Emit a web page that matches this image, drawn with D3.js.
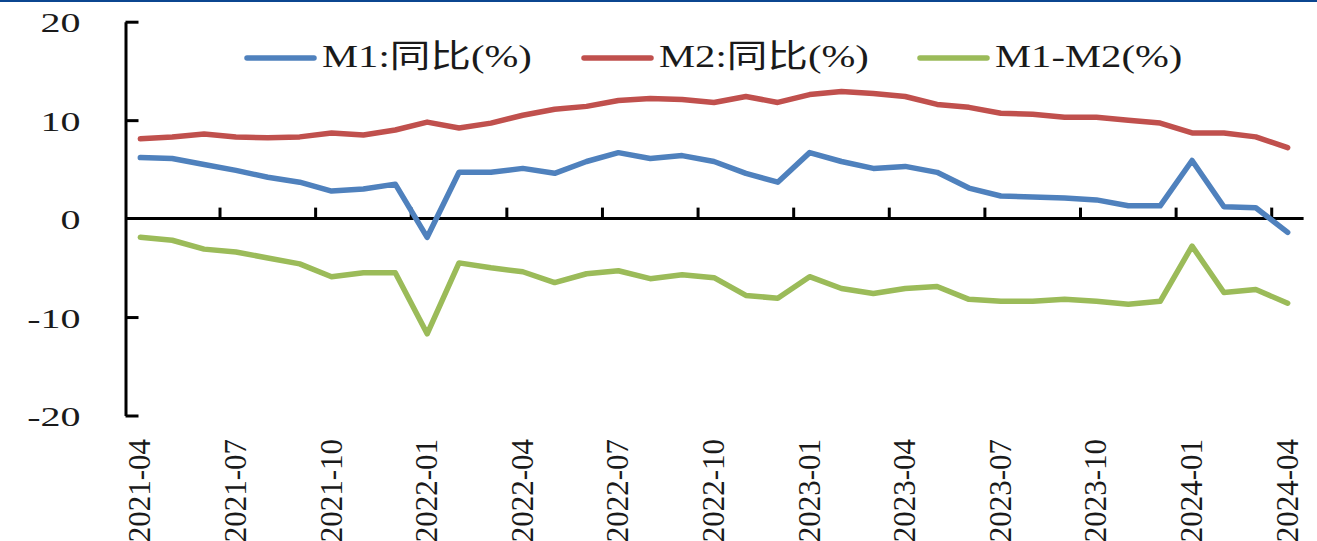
<!DOCTYPE html>
<html>
<head>
<meta charset="utf-8">
<script src="https://cdn.jsdelivr.net/npm/d3@7/dist/d3.min.js"></script>
<style>
  html, body { margin: 0; padding: 0; background: #ffffff; }
  svg { display: block; }
  text { font-family: "Liberation Serif", "Times New Roman", "Noto Sans CJK SC", serif; fill: #1a1a1a; }
</style>
</head>
<body>
<svg id="chart" width="1317" height="541"></svg>
<script>
// Monthly money supply growth, 2021-04 .. 2024-04
const months = [
  "2021-04","2021-05","2021-06","2021-07","2021-08","2021-09","2021-10","2021-11","2021-12",
  "2022-01","2022-02","2022-03","2022-04","2022-05","2022-06","2022-07","2022-08","2022-09",
  "2022-10","2022-11","2022-12","2023-01","2023-02","2023-03","2023-04","2023-05","2023-06",
  "2023-07","2023-08","2023-09","2023-10","2023-11","2023-12","2024-01","2024-02","2024-03","2024-04"
];
const m1 = [
  6.2, 6.1, 5.5, 4.9, 4.2, 3.7, 2.8, 3.0, 3.5,
  -1.9, 4.7, 4.7, 5.1, 4.6, 5.8, 6.7, 6.1, 6.4,
  5.8, 4.6, 3.7, 6.7, 5.8, 5.1, 5.3, 4.7, 3.1,
  2.3, 2.2, 2.1, 1.9, 1.3, 1.3, 5.9, 1.2, 1.1, -1.4
];
const m2 = [
  8.1, 8.3, 8.6, 8.3, 8.2, 8.3, 8.7, 8.5, 9.0,
  9.8, 9.2, 9.7, 10.5, 11.1, 11.4, 12.0, 12.2, 12.1,
  11.8, 12.4, 11.8, 12.6, 12.9, 12.7, 12.4, 11.6, 11.3,
  10.7, 10.6, 10.3, 10.3, 10.0, 9.7, 8.7, 8.7, 8.3, 7.2
];
const m1m2 = [
  -1.9, -2.2, -3.1, -3.4, -4.0, -4.6, -5.9, -5.5, -5.5,
  -11.7, -4.5, -5.0, -5.4, -6.5, -5.6, -5.3, -6.1, -5.7,
  -6.0, -7.8, -8.1, -5.9, -7.1, -7.6, -7.1, -6.9, -8.2,
  -8.4, -8.4, -8.2, -8.4, -8.7, -8.4, -2.8, -7.5, -7.2, -8.6
];
const yTicks = [-20, -10, 0, 10, 20];
const seriesNames = ["M1:同比(%)", "M2:同比(%)", "M1-M2(%)"];
const seriesColors = ["#4f81bd", "#c0504d", "#9bbb59"];

const svg = d3.select("#chart");
const W = 1317, H = 541;

svg.append("rect").attr("width", W).attr("height", H).attr("fill", "#ffffff");
// thin rule across the top edge
svg.append("rect").attr("x", 0).attr("y", 0).attr("width", W).attr("height", 2).attr("fill", "#0b4690");

const x = d3.scaleBand().domain(months).range([124.4, 1303.6]).paddingInner(0).paddingOuter(0);
const y = d3.scaleLinear().domain([-20, 20]).range([415.5, 21.7]);
const bw = x.bandwidth();
const cx = m => x(m) + bw / 2;

const AX = 125.5;   // vertical axis position
const axisStroke = 3;

// value axis, ticks pointing inward
const yAxis = d3.axisLeft(y).tickValues(yTicks).tickSizeInner(-13).tickSizeOuter(0).tickPadding(45)
  .tickFormat(d3.format("d"));
const gy = svg.append("g").attr("transform", `translate(${AX},0)`).call(yAxis);
gy.select(".domain").attr("stroke", "#000").attr("stroke-width", axisStroke);
gy.selectAll(".tick line").attr("stroke", "#000").attr("stroke-width", axisStroke)
  .filter(d => d === 0).remove();
gy.selectAll(".tick text")
  .attr("x", null).attr("dy", null)
  .attr("font-size", 28)
  .attr("text-anchor", "end")
  .attr("transform", "translate(-45,10) scale(1.43,1)")
  .text(d => d3.format("d")(d).replace("−", "-"));

// category axis along the zero line
const y0 = y(0);
const gx = svg.append("g");
gx.append("line")
  .attr("x1", AX).attr("x2", x.range()[1])
  .attr("y1", y0).attr("y2", y0)
  .attr("stroke", "#000").attr("stroke-width", axisStroke);
const tickIdx = months.map((m, i) => i).filter(i => i > 0 && i % 3 === 0);
gx.selectAll("line.tick").data(tickIdx).join("line")
  .attr("class", "tick")
  .attr("x1", i => x(months[i])).attr("x2", i => x(months[i]))
  .attr("y1", y0).attr("y2", y0 - 11)
  .attr("stroke", "#000").attr("stroke-width", axisStroke);

const labelIdx = months.map((m, i) => i).filter(i => i % 3 === 0);
svg.append("g").selectAll("text").data(labelIdx).join("text")
  .attr("font-size", 31)
  .attr("text-anchor", "end")
  .attr("transform", i => `translate(${cx(months[i]) + 10},439) rotate(-90)`)
  .text(i => months[i]);

// series lines
const line = d3.line().x((d, i) => cx(months[i])).y(d => y(d));
const seriesData = [m1, m2, m1m2];
svg.append("g").selectAll("path").data(seriesData).join("path")
  .attr("d", d => line(d))
  .attr("fill", "none")
  .attr("stroke", (d, i) => seriesColors[i])
  .attr("stroke-width", 5.5)
  .attr("stroke-linejoin", "round")
  .attr("stroke-linecap", "round");

// legend
const legendX = [247, 584, 920];
const lg = svg.append("g");
seriesNames.forEach((name, i) => {
  const g = lg.append("g").attr("transform", `translate(${legendX[i]},58)`);
  g.append("line").attr("x1", 0).attr("x2", 67).attr("y1", 0).attr("y2", 0)
    .attr("stroke", seriesColors[i]).attr("stroke-width", 5.5).attr("stroke-linecap", "round");
  g.append("text").attr("font-size", 32)
    .attr("transform", "translate(75,9) scale(1.27,1)")
    .text(name);
});
</script>
</body>
</html>
